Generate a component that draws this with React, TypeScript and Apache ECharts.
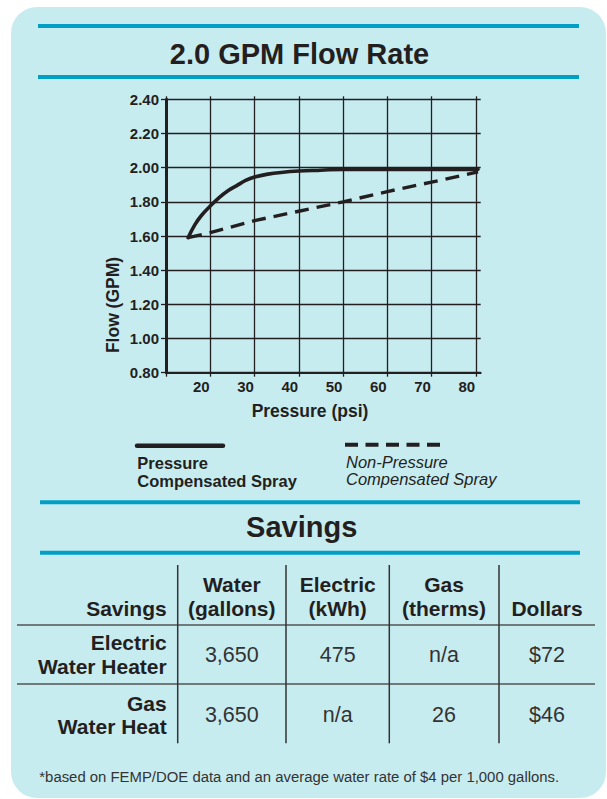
import React, { useEffect, useRef } from 'react';
import * as echarts from 'echarts';

const FONT = '"Liberation Sans", Arial, Helvetica, sans-serif';
const INK = '#231f20';
const GREY_INK = '#333333';
const CYAN = '#00a0c6';
const CARD = '#c7ecf0';

// ---- chart data ----
const compPressure = [15, 16.5, 18, 20, 22, 24, 26, 28, 30, 33, 36, 40, 45, 50, 60, 70, 80.5];
const compFlow = [1.59, 1.665, 1.72, 1.775, 1.825, 1.865, 1.895, 1.925, 1.945, 1.962, 1.972, 1.98, 1.985, 1.99, 1.99, 1.99, 1.99];
const nonCompPressure = [15, 20, 30, 40, 50, 60, 70, 80.5];
const nonCompFlow = [1.59, 1.62, 1.69, 1.745, 1.8, 1.86, 1.915, 1.975];

const xTickValues = [10, 20, 30, 40, 50, 60, 70, 80];
const xLabelValues = [20, 30, 40, 50, 60, 70, 80];
const yMin = 0.8;
const yMax = 2.4;
const yStep = 0.2;

const seriesNames = ['Pressure Compensated Spray', 'Non-Pressure Compensated Spray'];

// ---- table data ----
const cornerHeader = 'Savings';
const columnHeaders = [['Water', '(gallons)'], ['Electric', '(kWh)'], ['Gas', '(therms)'], ['Dollars']];
const rowLabels = [['Electric', 'Water Heater'], ['Gas', 'Water Heat']];
const waterGallons = ['3,650', '3,650'];
const electricKwh = ['475', 'n/a'];
const gasTherms = ['n/a', '26'];
const dollars = ['$72', '$46'];
const footnote = '*based on FEMP/DOE data and an average water rate of $4 per 1,000 gallons.';

function txt(text: string, x: number, y: number, size: number, o: any = {}) {
  return {
    type: 'text',
    x,
    y,
    rotation: o.rotation || 0,
    style: {
      text,
      fill: o.fill || INK,
      fontSize: size,
      fontWeight: o.weight || 'bold',
      fontStyle: o.style || 'normal',
      fontFamily: FONT,
      align: o.align || 'center',
      verticalAlign: 'middle',
    },
  };
}

function hline(x1: number, x2: number, y: number, color: string, w: number) {
  return { type: 'line', shape: { x1, y1: y, x2, y2: y }, style: { stroke: color, lineWidth: w } };
}
function vline(x: number, y1: number, y2: number, color: string, w: number) {
  return { type: 'line', shape: { x1: x, y1, x2: x, y2 }, style: { stroke: color, lineWidth: w } };
}

export default function App() {
  const ref = useRef<HTMLDivElement>(null);

  useEffect(() => {
    const chart = echarts.init(ref.current!, null, { renderer: 'svg' });

    const colCenters = [231.8, 337.7, 444, 547];
    const colLines = [177.7, 286, 389.3, 499];
    const rowValueY = [655, 715];
    const rowLabelY = [[642.7, 666.7], [703.3, 726.7]];
    const columns = [waterGallons, electricKwh, gasTherms, dollars];

    const graphics: any[] = [
      {
        type: 'rect',
        z: -10,
        shape: { x: 11, y: 7, width: 595, height: 791, r: 26 },
        style: { fill: CARD },
      },
      hline(38, 579, 26, CYAN, 4),
      hline(38, 579, 77, CYAN, 4),
      txt('2.0 GPM Flow Rate', 299.5, 53.7, 29),
      txt('Flow (GPM)', 112.7, 305, 17.5, { rotation: Math.PI / 2 }),
      txt('Pressure (psi)', 310, 410.7, 17.5),
      // legend
      {
        type: 'line',
        shape: { x1: 137, y1: 445.7, x2: 223, y2: 445.7 },
        style: { stroke: INK, lineWidth: 4.5, lineCap: 'round' },
      },
      {
        type: 'line',
        shape: { x1: 345, y1: 444.7, x2: 440, y2: 444.7 },
        style: { stroke: INK, lineWidth: 4, lineDash: [13, 7.5] },
      },
      txt('Pressure', 137.3, 463.3, 16.5, { align: 'left' }),
      txt('Compensated Spray', 137.3, 480.7, 16.5, { align: 'left' }),
      txt('Non-Pressure', 346, 462.3, 16.5, { align: 'left', weight: 'normal', style: 'italic' }),
      txt('Compensated Spray', 346, 479.3, 16.5, { align: 'left', weight: 'normal', style: 'italic' }),
      // savings
      hline(40, 580, 502.3, CYAN, 4),
      txt('Savings', 301.7, 527, 29),
      hline(40, 580, 552.7, CYAN, 4),
      hline(17, 595, 625, '#555555', 1.5),
      hline(17, 595, 684, '#555555', 1.5),
      ...colLines.map((x) => vline(x, 565, 743.3, GREY_INK, 1.5)),
      txt(cornerHeader, 166.7, 608, 21, { align: 'right' }),
      txt(footnote, 39.3, 777.3, 14.9, { align: 'left', weight: 'normal', fill: GREY_INK }),
    ];

    columnHeaders.forEach((lines, i) => {
      if (lines.length === 2) {
        graphics.push(txt(lines[0], colCenters[i], 584, 21));
        graphics.push(txt(lines[1], colCenters[i], 608, 21));
      } else {
        graphics.push(txt(lines[0], colCenters[i], 608, 21));
      }
    });
    rowLabels.forEach((lines, r) => {
      graphics.push(txt(lines[0], 166.7, rowLabelY[r][0], 21, { align: 'right' }));
      graphics.push(txt(lines[1], 166.7, rowLabelY[r][1], 21, { align: 'right' }));
      columns.forEach((col, c) => {
        graphics.push(txt(col[r], colCenters[c], rowValueY[r], 21.5, { weight: 'normal', fill: GREY_INK }));
      });
    });

    const option: any = {
      animation: false,
      backgroundColor: '#ffffff',
      grid: { left: 166, top: 99.3, width: 314.7, height: 273.4, containLabel: false },
      xAxis: [
        {
          type: 'value',
          min: 10,
          max: 81.1,
          position: 'bottom',
          axisLine: { show: true, lineStyle: { color: INK, width: 2 } },
          axisTick: { show: true, length: 4, customValues: xTickValues, lineStyle: { color: INK, width: 1.3 } },
          splitLine: { show: true, lineStyle: { color: INK, width: 1.3 } },
          axisLabel: {
            customValues: xLabelValues,
            color: INK,
            fontFamily: FONT,
            fontWeight: 'bold',
            fontSize: 15,
            margin: 6,
            padding: [0, 18, 0, 0],
          },
        },
        {
          type: 'value',
          min: 10,
          max: 81.1,
          position: 'top',
          axisLine: { show: false },
          axisTick: { show: true, length: 3, customValues: xTickValues, lineStyle: { color: INK, width: 1.3 } },
          splitLine: { show: false },
          axisLabel: { show: false },
        },
      ],
      yAxis: {
        type: 'value',
        min: yMin,
        max: yMax,
        interval: yStep,
        axisLine: { show: true, lineStyle: { color: INK, width: 3 } },
        axisTick: { show: true, length: 5, lineStyle: { color: INK, width: 1.3 } },
        splitLine: { show: true, lineStyle: { color: INK, width: 1.3 } },
        axisLabel: {
          color: INK,
          fontFamily: FONT,
          fontWeight: 'bold',
          fontSize: 15,
          margin: 7,
          formatter: (v: number) => v.toFixed(2),
        },
      },
      series: [
        {
          name: seriesNames[0],
          type: 'line',
          smooth: 0.4,
          showSymbol: false,
          clip: false,
          lineStyle: { color: INK, width: 3.6, cap: 'round' },
          data: compPressure.map((p, i) => [p, compFlow[i]]),
          z: 5,
        },
        {
          name: seriesNames[1],
          type: 'line',
          smooth: false,
          showSymbol: false,
          clip: false,
          lineStyle: { color: INK, width: 3.4, type: [14, 8] },
          data: nonCompPressure.map((p, i) => [p, nonCompFlow[i]]),
          z: 4,
        },
      ],
      graphic: graphics,
    };

    chart.setOption(option);
    return () => chart.dispose();
  }, []);

  return (
    <div
      ref={ref}
      style={{ position: 'fixed', left: 0, top: 0, width: 607, height: 799, background: '#ffffff' }}
    />
  );
}
